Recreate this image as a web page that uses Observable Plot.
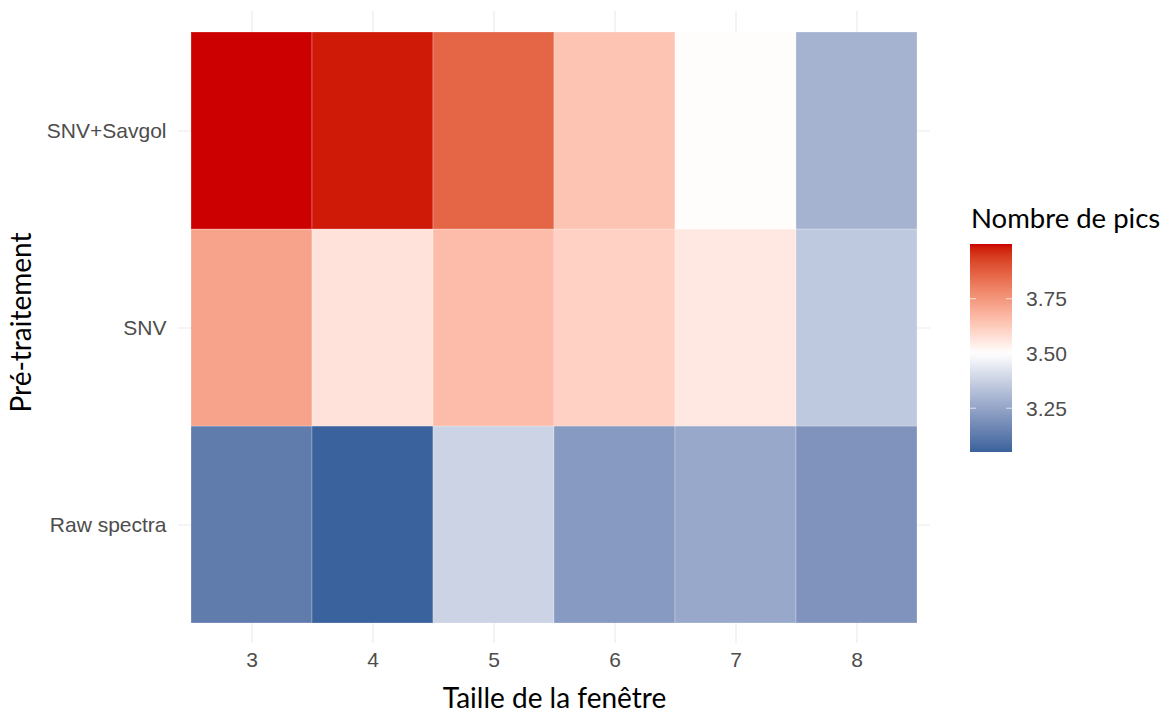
<!DOCTYPE html>
<html>
<head>
<meta charset="utf-8">
<script src="https://cdn.jsdelivr.net/npm/d3@7"></script>
<script src="https://cdn.jsdelivr.net/npm/@observablehq/plot@0.6"></script>
<style>
  html, body { margin: 0; padding: 0; background: #fff; }
  #wrap { position: relative; width: 1170px; height: 713px; overflow: hidden; }
  #chart { position: absolute; left: 0; top: 0; }
  #legend { position: absolute; left: 960px; top: 0; }
</style>
</head>
<body>
<div id="wrap"><div id="chart"></div><svg id="legend" width="210" height="713"></svg></div>
<script>
// ---- data ----
const windows = [3, 4, 5, 6, 7, 8];
const pretreatments = ["Raw spectra", "SNV", "SNV+Savgol"];
const rawSpectra = [3.13, 3.05, 3.38, 3.22, 3.26, 3.20];
const snv        = [3.72, 3.57, 3.66, 3.61, 3.555, 3.35];
const snvSavgol  = [4.00, 3.985, 3.86, 3.64, 3.505, 3.29];
const legendTicks = [3.25, 3.50, 3.75];
const xTitle = "Taille de la fenêtre";
const yTitle = "Pré-traitement";
const legendTitle = "Nombre de pics";

const seriesByName = {"Raw spectra": rawSpectra, "SNV": snv, "SNV+Savgol": snvSavgol};
const cells = pretreatments.flatMap(p => windows.map((w, i) => ({pre: p, win: w, value: seriesByName[p][i]})));

const lowC = "#1a5391", midC = "#ffffff", highC = "#cc0000";
const interp = t => t < 0.5 ? d3.interpolateLab(lowC, midC)(t * 2) : d3.interpolateLab(midC, highC)((t - 0.5) * 2);

const titleFont = "Lato, 'Open Sans', sans-serif";
const tickFont = "'Liberation Sans', Arial, sans-serif";

const plot = Plot.plot({
  width: 960,
  height: 713,
  marginLeft: 190,
  marginRight: 42,
  marginTop: 31,
  marginBottom: 90,
  style: {fontFamily: tickFont, fontSize: "21px", color: "#4d4d4d", background: "transparent"},
  x: {type: "band", domain: windows, padding: 0},
  y: {type: "band", domain: pretreatments.slice().reverse(), padding: 0},
  color: {type: "diverging", pivot: 3.5, interpolate: interp},
  marks: [
    Plot.gridX({stroke: "#ebebeb", strokeOpacity: 1, strokeWidth: 1.2, insetTop: -20, insetBottom: -20}),
    Plot.gridY({stroke: "#ebebeb", strokeOpacity: 1, strokeWidth: 1.2, insetLeft: -12, insetRight: -12}),
    Plot.cell(cells, {x: "win", y: "pre", fill: "value", stroke: "#ffffff", strokeOpacity: 0.25, strokeWidth: 1}),
    Plot.axisX({tickSize: 0, tickPadding: 29, label: null, fill: "#4d4d4d", fontSize: 21}),
    Plot.axisY({tickSize: 0, tickPadding: 24, label: null, fill: "#4d4d4d", fontSize: 21}),
    Plot.text([xTitle], {frameAnchor: "bottom", dy: 84, text: d => d, fontFamily: titleFont, fontSize: 28, fill: "#000", textAnchor: "middle", lineAnchor: "bottom"}),
    Plot.text([yTitle], {frameAnchor: "left", dx: -168, dy: -5, text: d => d, rotate: -90, fontFamily: titleFont, fontSize: 28, fill: "#000", textAnchor: "middle", lineAnchor: "middle"})
  ]
});
document.getElementById("chart").appendChild(plot);

// ---- legend (colour bar) using the plot's colour scale ----
const color = Plot.scale({color: plot.scale("color")});
const vals = cells.map(d => d.value);
const vmin = d3.min(vals), vmax = d3.max(vals);
const svg = d3.select("#legend");
const barX = 10, barW = 42, barTop = 244, barBot = 452;
const ly = d3.scaleLinear().domain([vmin, vmax]).range([barBot, barTop]);

const grad = svg.append("defs").append("linearGradient")
  .attr("id", "lg").attr("x1", 0).attr("y1", 1).attr("x2", 0).attr("y2", 0);
d3.range(0, 1.0001, 0.02).forEach(f => {
  grad.append("stop").attr("offset", f).attr("stop-color", color.apply(vmin + f * (vmax - vmin)));
});
svg.append("rect").attr("x", barX).attr("y", barTop).attr("width", barW).attr("height", barBot - barTop).attr("fill", "url(#lg)");
legendTicks.forEach(t => {
  const y = ly(t);
  svg.append("line").attr("x1", barX).attr("x2", barX + 6).attr("y1", y).attr("y2", y).attr("stroke", "#fff").attr("stroke-opacity", 0.7);
  svg.append("line").attr("x1", barX + barW - 6).attr("x2", barX + barW).attr("y1", y).attr("y2", y).attr("stroke", "#fff").attr("stroke-opacity", 0.7);
  svg.append("text").attr("x", barX + barW + 14).attr("y", y).attr("dy", "0.35em")
    .attr("font-family", tickFont).attr("font-size", 21).attr("fill", "#4d4d4d").text(d3.format(".2f")(t));
});
svg.append("text").attr("x", 11).attr("y", 228).attr("font-family", titleFont).attr("font-size", 27.5).attr("fill", "#000").text(legendTitle);
</script>
</body>
</html>
